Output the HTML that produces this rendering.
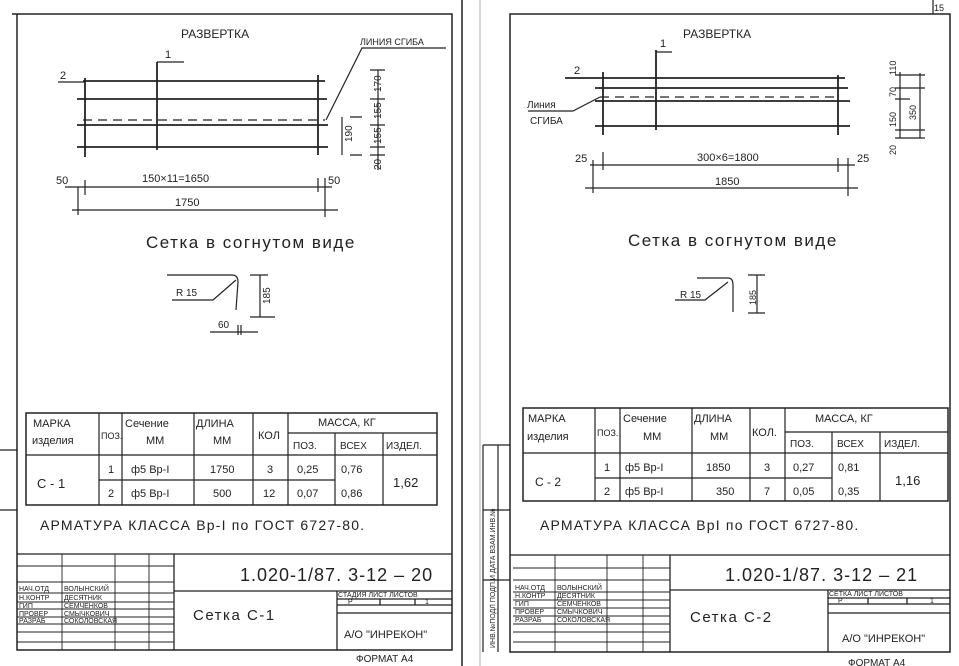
<!DOCTYPE html>
<html><head><meta charset="utf-8"><style>
html,body{margin:0;padding:0;background:#fff;}
svg{display:block;}
text{font-family:"Liberation Sans","DejaVu Sans",sans-serif;fill:#222;}
</style></head><body>
<svg width="959" height="666" viewBox="0 0 959 666" xmlns="http://www.w3.org/2000/svg">
<g stroke="#222" fill="none" stroke-width="1.2">
<!-- sheet separators -->
<line x1="462" y1="0" x2="462" y2="666" stroke-width="1.5"/>
<line x1="480" y1="0" x2="480" y2="666" stroke="#999" stroke-width="0.8"/>
<line x1="933" y1="0" x2="933" y2="14"/>
<!-- LEFT SHEET frame -->
<path d="M12 14 H452 V650 H17 V14" stroke-width="1.5"/>
<!-- left stamp strip -->
<path d="M0 450 H17 M0 510 H17"/>
<!-- drawing left -->
<g stroke-width="1.8">
<line x1="83" y1="81" x2="325" y2="81"/>
<line x1="77" y1="99" x2="327" y2="99"/>
<line x1="77" y1="125" x2="328" y2="125"/>
<line x1="77" y1="147" x2="328" y2="147"/>
<line x1="85" y1="78" x2="85" y2="157"/>
<line x1="157" y1="62" x2="157" y2="150"/>
<line x1="318" y1="75" x2="318" y2="155"/>
</g>
<line x1="83" y1="120" x2="325" y2="120" stroke-dasharray="9,6"/>
<path d="M157 62 H184 M58 82 H85 M446 48 H362 L326 120"/>
<path d="M75 187 H332 M72 210 H338 M78 187 V215 M85 180 V195 M318 178 V192 M325 178 V217 M65 187 H78"/>
<path d="M342 117 V155 M350 155 H362 M378 70 V170 M370 70 H385 M370 99 H385 M370 125 H385 M370 147 H385 M370 155 H385 M350 117 H362"/>
<path d="M167 275 H232 Q238 275 238 282 L236 310 M172 300 H213 L236 280"/>
<path d="M260 275 V317 M250 275 H268 M250 317 H275 M210 332 H258 M238 325 V335 M241 325 V335"/>
<!-- left table -->
<rect x="26" y="413" width="411" height="92" stroke-width="1.5"/>
<path d="M26 455 H437 M99 480 H335 M288 433 H437 M99 413 V505 M122 413 V505 M194 413 V505 M253 413 V505 M288 413 V505 M335 433 V505 M383 433 V505"/>
<!-- left title block -->
<path d="M17 554 H452 M174 554 V650 M174 591 H452 M337 591 V650 M337 599 H452 M337 605 H452 M337 613 H452 M380 599 V605 M415 599 V605" stroke-width="1.3"/>
<path d="M17 566 H174 M17 582 H174 M17 593 H174 M17 602 H174 M17 609 H174 M17 617 H174 M17 624 H174 M17 632 H174 M17 642 H174 M62 554 V650 M115 554 V650 M149 554 V650" stroke-width="0.9"/>

<!-- RIGHT SHEET frame -->
<path d="M510 14 H950 V652 H510 Z" stroke-width="1.5"/>
<path d="M483 445 V652 M498 445 V652 M483 445 H510 M483 510 H510 M483 580 H510"/>
<g stroke-width="1.8">
<line x1="565" y1="78" x2="845" y2="78"/>
<line x1="595" y1="88" x2="848" y2="88"/>
<line x1="595" y1="101" x2="850" y2="101"/>
<line x1="595" y1="126" x2="850" y2="126"/>
<line x1="603" y1="72" x2="603" y2="135"/>
<line x1="656" y1="50" x2="656" y2="130"/>
<line x1="838" y1="75" x2="838" y2="135"/>
</g>
<line x1="600" y1="97" x2="840" y2="97" stroke-dasharray="9,6"/>
<path d="M656 52 H672 M528 111 H573 L600 97"/>
<path d="M590 165 H855 M585 188 H858 M593 160 V193 M603 152 V170 M838 158 V172 M848 158 V196"/>
<path d="M900 72 V138 M920 73 V138 M895 75 H925 M895 88 H925 M895 99 H910 M895 130 H925 M895 138 H925"/>
<path d="M697 278 H728 Q733 278 733 285 L733 312 M675 300 H705 L728 282"/>
<path d="M757 275 V313 M748 275 H765 M748 313 H765"/>
<!-- right table -->
<rect x="523" y="408" width="425" height="93" stroke-width="1.5"/>
<path d="M523 453 H948 M595 478 H832 M785 432 H948 M595 408 V501 M620 408 V501 M692 408 V501 M750 408 V501 M785 408 V501 M832 432 V501 M880 432 V501"/>
<!-- right title block -->
<path d="M510 555 H950 M670 555 V652 M670 590 H950 M828 590 V652 M828 598 H950 M828 604 H950 M828 613 H950 M868 598 V604 M907 598 V604" stroke-width="1.3"/>
<path d="M513 568 H670 M513 580 H670 M513 592 H670 M513 600 H670 M513 608 H670 M513 616 H670 M513 624 H670 M513 632 H670 M513 642 H670 M555 555 V652 M607 555 V652 M643 555 V652" stroke-width="0.9"/>
</g>

<!-- LEFT texts -->
<text x="934" y="11" font-size="9">15</text>
<text x="181" y="38" font-size="12">РАЗВЕРТКА</text>
<text x="360" y="45" font-size="9">ЛИНИЯ СГИБА</text>
<text x="165" y="58" font-size="11">1</text>
<text x="60" y="79" font-size="11">2</text>
<text x="56" y="184" font-size="11">50</text>
<text x="142" y="182" font-size="11">150×11=1650</text>
<text x="175" y="206" font-size="11">1750</text>
<text x="328" y="184" font-size="11">50</text>
<g font-size="10">
<text transform="translate(352,142) rotate(-90)">190</text>
<text transform="translate(381,92) rotate(-90)">170</text>
<text transform="translate(381,119) rotate(-90)">155</text>
<text transform="translate(381,144) rotate(-90)">155</text>
<text transform="translate(381,170) rotate(-90)">20</text>
<text transform="translate(270,304) rotate(-90)">185</text>
</g>
<text x="146" y="248" font-size="17" letter-spacing="1.5">Сетка в согнутом виде</text>
<text x="176" y="296" font-size="10">R 15</text>
<text x="218" y="328" font-size="10">60</text>
<g font-size="11">
<text x="33" y="427">МАРКА</text><text x="32" y="444">изделия</text>
<text x="101" y="439" font-size="9">ПОЗ.</text>
<text x="125" y="427">Сечение</text><text x="146" y="444">ММ</text>
<text x="196" y="427">ДЛИНА</text><text x="213" y="444">ММ</text>
<text x="258" y="439">КОЛ</text>
<text x="318" y="426">МАССА, КГ</text>
<text x="293" y="449" font-size="10">ПОЗ.</text><text x="340" y="449" font-size="10">ВСЕХ</text><text x="386" y="449" font-size="10">ИЗДЕЛ.</text>
<text x="37" y="488" font-size="13">С - 1</text>
<text x="108" y="473">1</text><text x="131" y="473">ф5 Вр-I</text><text x="210" y="473">1750</text><text x="267" y="473">3</text><text x="297" y="473">0,25</text><text x="341" y="473">0,76</text>
<text x="108" y="497">2</text><text x="131" y="497">ф5 Вр-I</text><text x="213" y="497">500</text><text x="263" y="497">12</text><text x="297" y="497">0,07</text><text x="341" y="497">0,86</text>
<text x="393" y="487" font-size="13">1,62</text>
</g>
<text x="40" y="530" font-size="14" letter-spacing="1.2">АРМАТУРА КЛАССА Вр-I по ГОСТ 6727-80.</text>
<text x="240" y="581" font-size="18" letter-spacing="1">1.020-1/87. 3-12 – 20</text>
<g font-size="7">
<text x="19" y="591">НАЧ.ОТД</text><text x="64" y="591">ВОЛЫНСКИЙ</text>
<text x="19" y="600">Н.КОНТР</text><text x="64" y="600">ДЕСЯТНИК</text>
<text x="19" y="608">ГИП</text><text x="64" y="608">СЕМЧЕНКОВ</text>
<text x="19" y="616">ПРОВЕР</text><text x="64" y="616">СМЫЧКОВИЧ</text>
<text x="19" y="623">РАЗРАБ</text><text x="64" y="623">СОКОЛОВСКАЯ</text>
<text x="338" y="597">СТАДИЯ ЛИСТ ЛИСТОВ</text>
<text x="348" y="604">Р</text><text x="425" y="604">1</text>
</g>
<text x="193" y="620" font-size="15" letter-spacing="1.5">Сетка С-1</text>
<text x="344" y="638" font-size="11">А/О "ИНРЕКОН"</text>
<text x="356" y="662" font-size="10">ФОРМАТ А4</text>

<!-- RIGHT texts -->
<text x="683" y="38" font-size="12">РАЗВЕРТКА</text>
<text x="660" y="47" font-size="11">1</text>
<text x="574" y="74" font-size="11">2</text>
<text x="527" y="108" font-size="10">Линия</text>
<text x="530" y="124" font-size="10">СГИБА</text>
<text x="575" y="162" font-size="11">25</text>
<text x="697" y="161" font-size="11">300×6=1800</text>
<text x="715" y="185" font-size="11">1850</text>
<text x="857" y="162" font-size="11">25</text>
<g font-size="9">
<text transform="translate(896,75) rotate(-90)">110</text>
<text transform="translate(896,97) rotate(-90)">70</text>
<text transform="translate(896,127) rotate(-90)">150</text>
<text transform="translate(896,155) rotate(-90)">20</text>
<text transform="translate(916,120) rotate(-90)">350</text>
<text transform="translate(756,305) rotate(-90)">185</text>
</g>
<text x="628" y="246" font-size="17" letter-spacing="1.5">Сетка в согнутом виде</text>
<text x="680" y="298" font-size="10">R 15</text>
<g font-size="11">
<text x="528" y="422">МАРКА</text><text x="527" y="440">изделия</text>
<text x="597" y="436" font-size="9">ПОЗ.</text>
<text x="623" y="422">Сечение</text><text x="643" y="440">ММ</text>
<text x="694" y="422">ДЛИНА</text><text x="710" y="440">ММ</text>
<text x="752" y="436">КОЛ.</text>
<text x="815" y="422">МАССА, КГ</text>
<text x="790" y="447" font-size="10">ПОЗ.</text><text x="837" y="447" font-size="10">ВСЕХ</text><text x="884" y="447" font-size="10">ИЗДЕЛ.</text>
<text x="535" y="486" font-size="12">С - 2</text>
<text x="604" y="471">1</text><text x="625" y="471">ф5 Вр-I</text><text x="706" y="471">1850</text><text x="764" y="471">3</text><text x="793" y="471">0,27</text><text x="838" y="471">0,81</text>
<text x="604" y="495">2</text><text x="625" y="495">ф5 Вр-I</text><text x="716" y="495">350</text><text x="764" y="495">7</text><text x="793" y="495">0,05</text><text x="838" y="495">0,35</text>
<text x="895" y="485" font-size="13">1,16</text>
</g>
<text x="540" y="530" font-size="14" letter-spacing="1.2">АРМАТУРА КЛАССА ВрI по ГОСТ 6727-80.</text>
<text x="725" y="581" font-size="18" letter-spacing="1">1.020-1/87. 3-12 – 21</text>
<g font-size="7">
<text x="515" y="590">НАЧ.ОТД</text><text x="557" y="590">ВОЛЫНСКИЙ</text>
<text x="515" y="598">Н.КОНТР</text><text x="557" y="598">ДЕСЯТНИК</text>
<text x="515" y="606">ГИП</text><text x="557" y="606">СЕМЧЕНКОВ</text>
<text x="515" y="614">ПРОВЕР</text><text x="557" y="614">СМЫЧКОВИЧ</text>
<text x="515" y="622">РАЗРАБ</text><text x="557" y="622">СОКОЛОВСКАЯ</text>
<text x="829" y="596">СЕТКА ЛИСТ ЛИСТОВ</text>
<text x="838" y="603">Р</text><text x="930" y="603">1</text>
</g>
<g font-size="7">
<text transform="translate(495,648) rotate(-90)">ИНВ.№ПОДЛ ПОДП.И ДАТА ВЗАМ.ИНВ.№</text>
</g>
<text x="690" y="622" font-size="15" letter-spacing="1.5">Сетка С-2</text>
<text x="842" y="642" font-size="11">А/О "ИНРЕКОН"</text>
<text x="848" y="666" font-size="10">ФОРМАТ А4</text>
</svg>
</body></html>
